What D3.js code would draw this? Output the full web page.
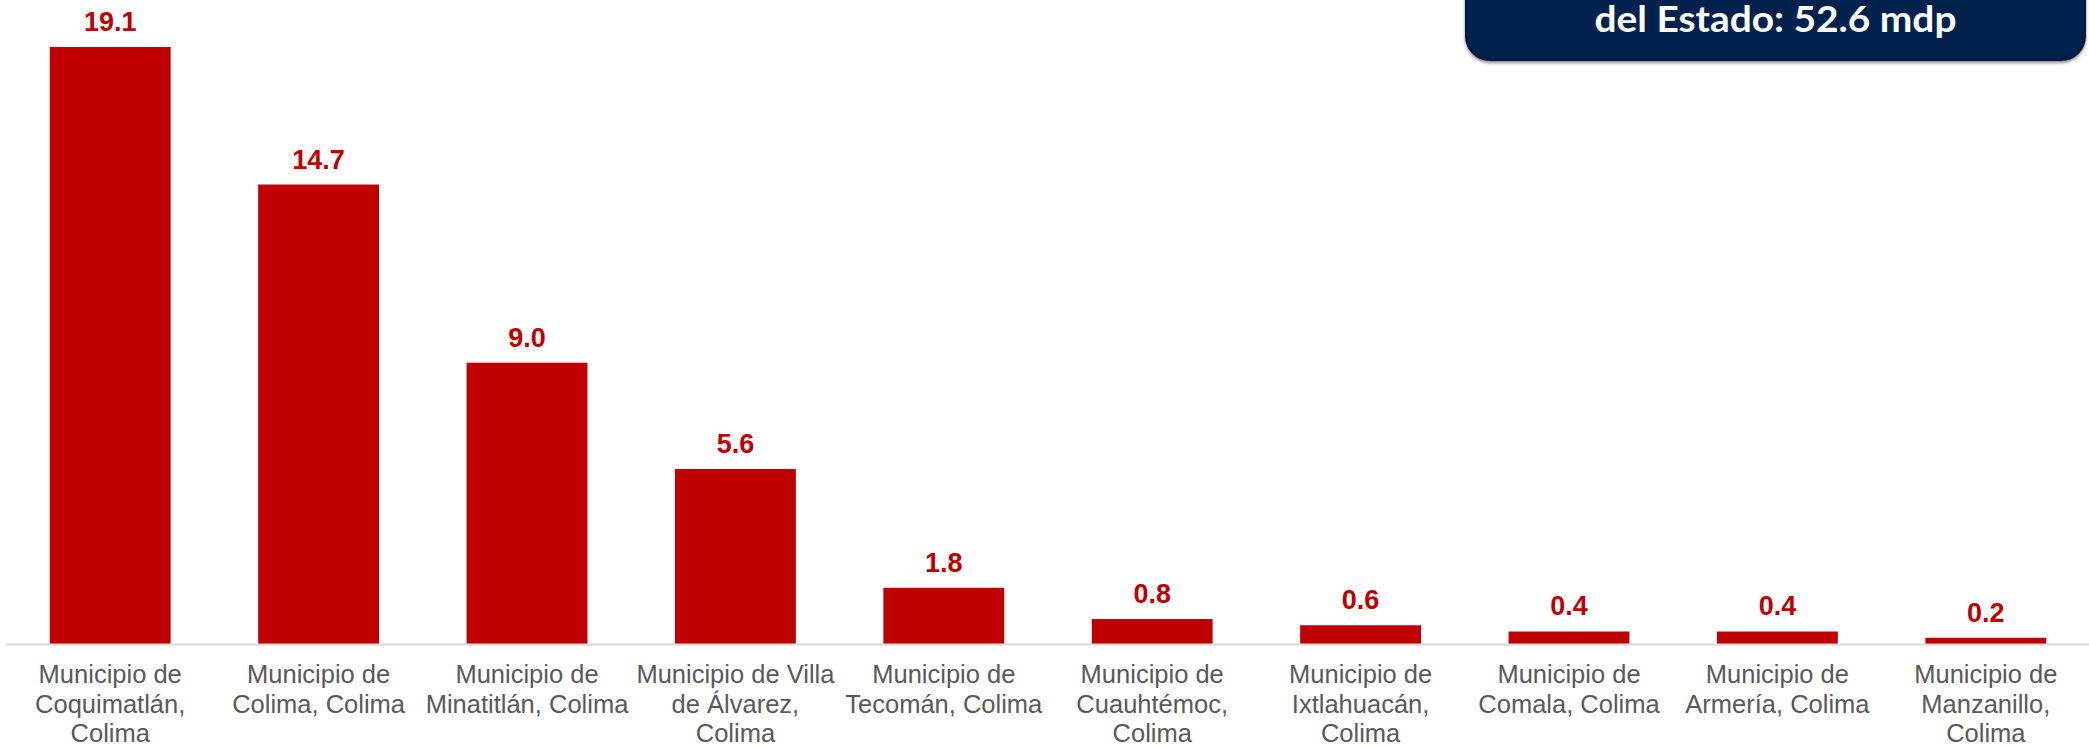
<!DOCTYPE html>
<html>
<head>
<meta charset="utf-8">
<script src="https://cdn.jsdelivr.net/npm/d3@7/dist/d3.min.js"></script>
<style>
  html, body { margin: 0; padding: 0; background: #ffffff; }
  svg { display: block; }
</style>
</head>
<body>
<svg id="chart" width="2089" height="747"></svg>
<script>
// ---- Data ----
const categories = [
  "Municipio de|Coquimatlán,|Colima",
  "Municipio de|Colima, Colima",
  "Municipio de|Minatitlán, Colima",
  "Municipio de Villa|de Álvarez,|Colima",
  "Municipio de|Tecomán, Colima",
  "Municipio de|Cuauhtémoc,|Colima",
  "Municipio de|Ixtlahuacán,|Colima",
  "Municipio de|Comala, Colima",
  "Municipio de|Armería, Colima",
  "Municipio de|Manzanillo,|Colima"
];
const values = [19.1, 14.7, 9.0, 5.6, 1.8, 0.8, 0.6, 0.4, 0.4, 0.2];
const boxText = "del Estado: 52.6 mdp";

// ---- Layout ----
const baseY = 644, topY = 47;
const svg = d3.select("#chart");

const x = d3.scaleBand()
  .domain(categories)
  .range([6, 2090])
  .paddingInner(0.42)
  .paddingOuter(0.21);

const y = d3.scaleLinear()
  .domain([0, d3.max(values)])
  .range([baseY, topY]);

const data = categories.map((c, i) => ({ c, v: values[i] }));

// Bars
svg.append("g").selectAll("rect")
  .data(data)
  .join("rect")
  .attr("x", d => x(d.c))
  .attr("y", d => y(d.v))
  .attr("width", x.bandwidth())
  .attr("height", d => y(0) - y(d.v))
  .attr("fill", "#C00000");

// Axis
const axis = svg.append("g")
  .attr("transform", `translate(0,${baseY})`)
  .call(d3.axisBottom(x).tickSize(0).tickSizeOuter(0).tickPadding(0));
axis.select(".domain")
  .attr("stroke", "#d9d9d9")
  .attr("stroke-width", 2);
axis.selectAll(".tick text").each(function(d) {
  const t = d3.select(this);
  t.text(null)
    .attr("y", 0)
    .attr("dy", null)
    .attr("fill", "#595959")
    .style("font-family", "'Liberation Sans', Arial, sans-serif")
    .style("font-size", "25.5px");
  d.split("|").forEach((line, k) => {
    t.append("tspan")
      .attr("x", 0)
      .attr("y", 39 + k * 29.5)
      .text(line);
  });
});

// Value labels
svg.append("g").selectAll("text")
  .data(data)
  .join("text")
  .attr("x", d => x(d.c) + x.bandwidth() / 2)
  .attr("y", d => y(d.v) - 16)
  .attr("text-anchor", "middle")
  .attr("fill", "#C00000")
  .style("font-family", "'Liberation Sans', Arial, sans-serif")
  .style("font-weight", "bold")
  .style("font-size", "27px")
  .text(d => d.v.toFixed(1));

// Top-right box
const defs = svg.append("defs");
const f = defs.append("filter").attr("id", "shadow")
  .attr("x", "-5%").attr("y", "-20%").attr("width", "110%").attr("height", "150%");
f.append("feDropShadow").attr("dx", 0).attr("dy", 2).attr("stdDeviation", 1.5)
  .attr("flood-color", "#000000").attr("flood-opacity", 0.45);

const boxX = 1466, boxR = 2085, boxB = 60;
svg.append("rect")
  .attr("x", boxX)
  .attr("y", -40)
  .attr("width", boxR - boxX)
  .attr("height", boxB + 40)
  .attr("rx", 24)
  .attr("ry", 24)
  .attr("fill", "#00204D")
  .attr("stroke", "#0a1838")
  .attr("stroke-width", 2)
  .attr("filter", "url(#shadow)");

svg.append("text")
  .attr("x", (boxX + boxR) / 2)
  .attr("y", 32)
  .attr("text-anchor", "middle")
  .attr("fill", "#ffffff")
  .style("font-family", "Lato, 'Open Sans', sans-serif")
  .style("font-weight", "bold")
  .style("font-size", "37px")
  .attr("textLength", 362)
  .attr("lengthAdjust", "spacingAndGlyphs")
  .text(boxText);
</script>
</body>
</html>
